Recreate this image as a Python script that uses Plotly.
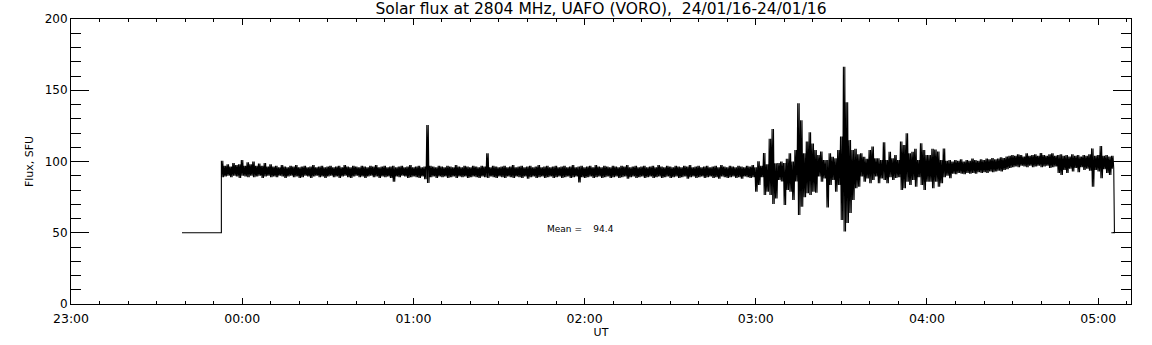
import pandas as pd
import plotly.graph_objects as go

# ---------------- data ----------------
# time axis: minutes after 23:00 UT (2024-01-15)
base_time = pd.Timestamp("2024-01-15 23:00")
axis_end_min = 371.5

# pre-observation level and post-observation level
pre_minutes = [38.9, 52.7]
pre_flux = [50, 50]
post_minutes = [365.7, 364.6]
post_flux = [50, 50]

# observed band, one high/low pair per minute starting at band_start_min
band_start_min = 52.7

flux_high = [
    100.6,
    97, 98, 96.5, 99, 97.5, 98, 101, 97, 99.5, 98, 100, 97, 98.5, 97, 99, 96.5, 98,
    # 00:11 - 03:00 quiet period
    96.5, 97, 96, 97.5, 96.5, 96, 97, 96.5, 97.5, 96,
    96.5, 97, 96, 96.5, 97.5, 96, 96.5, 97, 96, 96.5,
    97, 96, 96.5, 97, 96, 97.5, 96.5, 96, 97, 96.5,
    96, 97, 96.5, 96, 97, 96.5, 97.5, 96, 96.5, 97,
    96, 96.5, 97, 96, 96.5, 97, 96, 96.5, 97.5, 96,
    96.5, 97, 96, 96.5, 125.6, 97, 96.5, 96, 97, 96.5,
    96, 97, 96.5, 96, 97.5, 96.5, 96, 97, 96.5, 96,
    97, 96.5, 96, 97, 96.5, 105.7, 96, 97, 96.5, 96,
    96.5, 97, 96, 96.5, 97.5, 96, 96.5, 97, 96, 96.5,
    97, 96, 96.5, 97.5, 96, 96.5, 97, 96, 96.5, 97,
    96, 96.5, 97, 96, 96.5, 97.5, 96, 96.5, 97, 96,
    96.5, 97, 96, 97.5, 96.5, 96, 97, 96.5, 96, 97,
    96.5, 96, 97, 96.5, 97.5, 96, 96.5, 97, 96, 96.5,
    97, 96, 96.5, 97, 96, 97.5, 96.5, 96, 97, 96.5,
    96, 97, 96.5, 96, 97, 96.5, 97.5, 96, 96.5, 97,
    96, 96.5, 97, 96, 96.5, 97, 96, 97.5, 96.5, 96,
    97, 96.5, 96, 97, 96.5, 96, 97, 96.5, 97.5, 96,
    # 03:01 - 04:05 active period
    100.2, 97, 106, 98, 116, 122.8, 98.7, 99, 100, 99,
    102, 105.7, 100, 108, 140.8, 129, 105.7, 114, 120.5, 112.7,
    108, 104.6, 107, 101, 101, 105.7, 103.4, 102.2, 108, 117.5,
    166.5, 141.5, 115, 108, 109, 105, 105.7, 103.4, 102, 108,
    110.5, 102.2, 102.2, 101, 113.5, 101, 106.8, 102.2, 104.6, 101,
    114, 111.6, 119.8, 105.7, 106.8, 109, 101, 112.8, 108, 104.6,
    104.6, 109, 108.5, 107, 101,
    # 04:06 - 05:05
    109.2, 100.5, 101, 100, 101, 100.5, 101.5, 100, 101, 100.5,
    102, 101, 100.5, 101.5, 101, 102, 101.5, 102.5, 101.5, 102,
    103, 102.5, 103.5, 104, 104.6, 104, 105, 104.5, 103.5, 105.7,
    104, 104.5, 105, 104, 106, 104.5, 104, 105, 105.7, 104,
    104.5, 105, 104, 104.5, 103.5, 105, 104, 104.5, 103.5, 104.5,
    104, 105, 109.2, 104, 104.5, 110.9, 104, 104.5, 103.5, 104,
]

flux_low = [
    89,
    89.5, 90, 89, 90, 89.5, 88.5, 90, 89.5, 89, 90, 89, 89.5, 90, 88.5, 89.5, 90, 89,
    # 00:11 - 03:00 quiet period
    89.5, 89, 90, 89.5, 88.5, 89.5, 90, 89, 89.5, 88.5,
    89, 90, 89.5, 88.5, 89.5, 90, 89, 89.5, 88.5, 89.5,
    90, 89, 89.5, 88.5, 89.5, 90, 89, 88.5, 89.5, 90,
    89, 89.5, 88.5, 89.5, 90, 89, 89.5, 88.5, 89.5, 89,
    89.5, 88.5, 85.8, 89.5, 89, 90, 89.5, 88.5, 89, 89.5,
    89, 88.5, 89.5, 87.5, 85, 89, 89.5, 88.5, 89.5, 89,
    89.5, 88.5, 89, 89.5, 88.5, 89.5, 89, 89.5, 88.5, 89,
    89.5, 89, 88.5, 89.5, 89, 88.5, 89.5, 89, 88.5, 89.5,
    89, 88.5, 89.5, 89, 88.5, 89.5, 89, 88.5, 89.5, 88,
    89, 89.5, 88.5, 89, 89.5, 88.5, 89, 89.5, 88.5, 89,
    89.5, 88.5, 89, 89.5, 88.5, 89, 89.5, 85.2, 89, 88.5,
    89, 89.5, 88.5, 89, 89.5, 88.5, 89, 89.5, 88.5, 89,
    89.5, 88.5, 89, 89.5, 88, 89, 89.5, 88.5, 89, 89.5,
    88.5, 89, 89.5, 88.5, 89, 89.5, 88.5, 89, 89.5, 88.5,
    89, 89.5, 88.5, 89, 89.5, 88, 89, 89.5, 88.5, 89,
    89.5, 88.5, 89, 89.5, 88.5, 89, 88, 89.5, 89, 88.5,
    89, 89.5, 88.5, 89, 88, 89.5, 89, 88.5, 89, 78.8,
    # 03:01 - 04:05 active period
    83.5, 89, 76.5, 78.8, 76.5, 70.2, 74, 87, 86, 69.5,
    80, 78.8, 73, 86, 62.5, 68.3, 75, 77.7, 76.5, 78.8,
    78, 89.4, 85.8, 88, 67.8, 83.5, 87, 78.8, 83.5, 59,
    50.8, 56.8, 63.8, 73, 81.3, 82.3, 89.4, 85.8, 88, 84.7,
    87, 89.4, 84.7, 88, 87, 84.7, 89, 87, 88.5, 89,
    80, 81.2, 85.8, 83.5, 87, 82.3, 89, 83.5, 80, 85.8,
    85.8, 81.2, 85.8, 82.3, 84.7,
    # 04:06 - 05:05
    89, 90, 88.2, 91.5, 91, 92, 91.5, 91, 92, 91.5,
    92, 91.5, 92.5, 92, 92.5, 92, 93, 92.5, 93, 93.5,
    93, 94, 94.5, 95.5, 96, 96.5, 96, 97, 96.5, 96,
    97, 96, 96.5, 97, 96, 96.5, 97, 95.5, 96, 96.5,
    92, 90.5, 94, 92, 95, 93, 95.5, 92.5, 96, 94,
    95, 93.5, 82.3, 94, 93, 88.2, 94.5, 92, 90.5, 95,
]

mean_flux = 94.4

title_text = "Solar flux at 2804 MHz, UAFO (VORO),\u00a0\u00a024/01/16-24/01/16"
y_ticks = [0, 50, 100, 150, 200]

# ---------------- build the trace ----------------
# dense noisy line: each minute sampled as high, low, high, low
xs = list(pre_minutes)
ys = list(pre_flux)
for i, (h, l) in enumerate(zip(flux_high, flux_low)):
    t = band_start_min + i
    xs += [t, t + 0.25, t + 0.5, t + 0.75]
    ys += [h, l, h, l]
xs += post_minutes
ys += post_flux


def to_time(mins):
    return base_time + pd.to_timedelta(mins, unit="min")


FONT = "DejaVu Sans"

fig = go.Figure()
fig.add_trace(go.Scatter(
    x=to_time(xs), y=ys, mode="lines",
    line=dict(color="black", width=1.1),
    showlegend=False, hoverinfo="skip",
))

fig.update_layout(
    width=1152, height=345,
    margin=dict(l=71, r=21, t=19, b=41, autoexpand=False),
    paper_bgcolor="white", plot_bgcolor="white",
    font=dict(family=FONT, size=12, color="black"),
    title=dict(text=title_text, x=0.5, xref="paper", xanchor="center",
               y=1 - 9 / 345, yanchor="middle",
               font=dict(family=FONT, size=15.5, color="black")),
    annotations=[dict(
        text=f"Mean =\u00a0\u00a0\u00a0\u00a0{mean_flux}", xref="paper", yref="y",
        x=(545 - 71) / 1060, y=52.6, xanchor="left", yanchor="middle",
        showarrow=False, font=dict(family=FONT, size=9, color="black"),
    )],
)

fig.update_xaxes(
    type="date", automargin=False,
    range=[base_time, to_time(axis_end_min)],
    tick0=base_time, dtick=3600000, tickformat="%H:%M",
    ticks="inside", ticklen=6, tickwidth=1, tickcolor="black",
    minor=dict(dtick=600000, ticks="inside", ticklen=3, tickcolor="black"),
    showline=True, linecolor="black", linewidth=1, mirror="allticks",
    showgrid=False, zeroline=False,
    ticklabelstandoff=3,
    title=dict(text="UT", standoff=0, font=dict(family=FONT, size=11)),
    tickfont=dict(family=FONT, size=12.5),
)
fig.update_yaxes(
    automargin=False,
    range=[0, 200], tickvals=y_ticks,
    ticks="inside", ticklen=18, tickwidth=1, tickcolor="black",
    minor=dict(dtick=10, ticks="inside", ticklen=10, tickcolor="black"),
    showline=True, linecolor="black", linewidth=1, mirror="allticks",
    showgrid=False, zeroline=False,
    title=dict(text="Flux, SFU", standoff=8, font=dict(family=FONT, size=11)),
    tickfont=dict(family=FONT, size=12),
)

# remove the browser's default page margin so the figure sits at (0, 0)
fig.write_html("out.html", config={"displayModeBar": False},
               post_script="document.body.style.margin='0';")
